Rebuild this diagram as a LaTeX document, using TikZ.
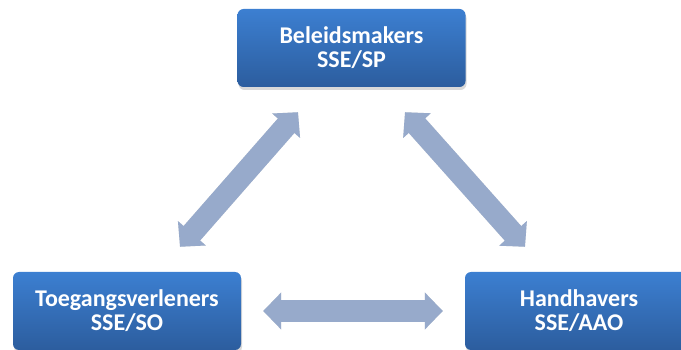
\documentclass[tikz,border=0pt]{standalone}
\usepackage{fontspec}
\setmainfont{Carlito}
\usetikzlibrary{arrows.meta,shadows,calc}

\definecolor{boxtop}{HTML}{3C7FD1}
\definecolor{boxbot}{HTML}{2C5D9E}
\definecolor{pijlkleur}{HTML}{97AACB}

\tikzset{
  rol/.style={rounded corners=6pt, minimum width=228pt, minimum height=78pt,
    top color=boxtop, bottom color=boxbot, draw=none, text=white, align=center,
    font=\fontsize{24}{24}\selectfont\bfseries,
    drop shadow={shadow xshift=1pt, shadow yshift=-3pt, opacity=0.3}},
  pijl/.style={line width=22pt, draw=pijlkleur,
    {Triangle[width=36pt,length=18pt]}-{Triangle[width=36pt,length=18pt]}},
  pijlschaduw/.style={line width=22pt, draw=black, opacity=0.12,
    {Triangle[width=36pt,length=18pt]}-{Triangle[width=36pt,length=18pt]}}
}

\begin{document}
\begin{tikzpicture}[x=1pt,y=-1pt]
\useasboundingbox (0,0) rectangle (681,350);
\clip (0,0) rectangle (681,350);

% de drie rollen
\node[rol] (beleid) at (351.5,48) {Beleidsmakers\\SSE/SP};
\node[rol] (toegang) at (127,311) {Toegangsverleners\\SSE/SO};
\node[rol] (handhaven) at (579,311) {Handhavers\\SSE/AAO};

% schaduw onder de pijlen
\begin{scope}[xshift=2pt,yshift=-3pt]
\draw[pijlschaduw] ([xshift=22pt]toegang.east) -- ([xshift=-22pt]handhaven.west);
\draw[pijlschaduw] ($(beleid.south)+(-53.5,25)$) -- ($(toegang.north)+(53,-25)$);
\draw[pijlschaduw] ($(beleid.south)+(53.5,25)$) -- ($(handhaven.north)+(-54,-25)$);
\end{scope}

% pijlen
\draw[pijl] ([xshift=22pt]toegang.east) -- ([xshift=-22pt]handhaven.west);
\draw[pijl] ($(beleid.south)+(-53.5,25)$) -- ($(toegang.north)+(53,-25)$);
\draw[pijl] ($(beleid.south)+(53.5,25)$) -- ($(handhaven.north)+(-54,-25)$);

\end{tikzpicture}
\end{document}
